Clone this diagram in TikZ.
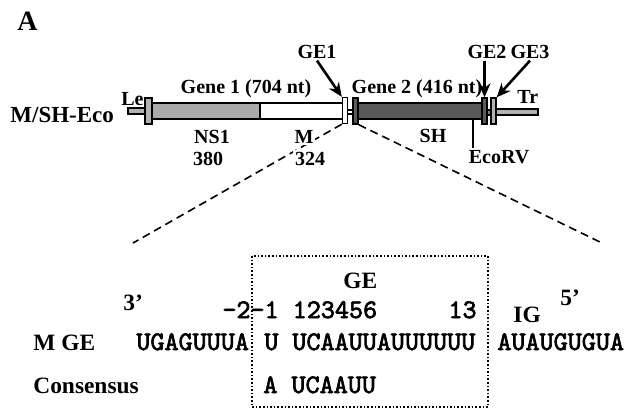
\documentclass[tikz,border=0pt]{standalone}
\usepackage{fontspec}
\setmainfont{Liberation Serif}
\setmonofont{lmmono10-regular}[Extension=.otf, AutoFakeBold=2.5]
\usetikzlibrary{arrows.meta}

\tikzset{
  lbl/.style={font=\bfseries\fontsize{10}{12}\selectfont, anchor=base, inner sep=1pt},
  big/.style={font=\bfseries\fontsize{11.7}{14}\selectfont, anchor=base west, inner sep=0pt},
  seq/.style={font=\ttfamily\bfseries\fontsize{13.4}{15}\selectfont, anchor=base west, inner sep=0pt},
  gebox/.style={draw, line width=0.7pt, minimum width=2.5pt, minimum height=13pt, inner sep=0pt},
  arr/.style={line width=1.3pt, -{Stealth[length=7pt,width=6pt]}},
  zoomline/.style={line width=0.8pt, dash pattern=on 4pt off 2.5pt},
}

\begin{document}
\begin{tikzpicture}[x=0.5pt, y=-0.5pt]
\useasboundingbox (0,0) rectangle (627,409);

% panel letter and construct name
\node[font=\bfseries\fontsize{14}{16}\selectfont, anchor=base west, inner sep=0pt] (panel) at (17,30) {A};
\node[font=\bfseries\fontsize{11.5}{14}\selectfont, anchor=base west, inner sep=0pt] (name) at (10,122) {M/SH-Eco};

% --- Genome bar ---
\draw[line width=0.7pt, fill=black!30] (128,108) rectangle (146,114);
\draw[line width=0.7pt, fill=black!33] (152,103) rectangle (260,119);
\draw[line width=0.7pt, fill=white] (260,103) rectangle (343,119);
\draw[line width=0.7pt, fill=white] (347,110) rectangle (353,114);
\draw[line width=0.7pt, fill=black!65] (358,103) rectangle (482,119);
\draw[line width=0.7pt, fill=black!50] (487,110) rectangle (491,115);
\draw[line width=0.7pt, fill=black!30] (496,109) rectangle (538,115);

% junction boxes
\node[gebox, fill=black!30, minimum width=3.5pt] (lebox) at (148.5,111) {};
\node[gebox, fill=white] (ge1box) at (345,110.5) {};
\node[gebox, fill=black!65] (shbox) at (355.5,111) {};
\node[gebox, fill=black!65] (ge2box) at (484.5,111) {};
\node[gebox, fill=black!30] (ge3box) at (493.5,111) {};
\coordinate (ecosite) at (473,119);

% zoom lines
\coordinate (zoomL) at (133,243);
\coordinate (zoomR) at (602,243);
\draw[zoomline] (ge1box.south west) -- (zoomL);
\draw[zoomline] (shbox.south east) -- (zoomR);

% --- Bar labels ---
\node[lbl] (gene1) at (246,93) {Gene 1 (704 nt)};
\node[lbl] (gene2) at (417,93) {Gene 2 (416 nt)};
\node[lbl] (ns1) at (212,143) {NS1};
\node[lbl] (ns1len) at (208,165) {380};
\node[lbl, fill=white] (m) at (304,143) {M};
\node[lbl, fill=white] (mlen) at (310,165) {324};
\node[lbl] (sh) at (433,142) {SH};
\node[lbl] (eco) at (499,163) {EcoRV};
\node[lbl] (ge1) at (317,58) {GE1};
\node[lbl] (ge2) at (487,58) {GE2};
\node[lbl] (ge3) at (530,58) {GE3};
\node[lbl, anchor=base west] (le) at (119,105) {Le};
\node[lbl, anchor=base west] (tr) at (515,103) {Tr};

\draw[arr] (ge1.south) -- (ge1box.north west);
\draw[arr] (ge2box.north |- ge2.south) -- (ge2box.north);
\draw[arr] (ge3.south) -- (ge3box.north east);
\draw[line width=0.8pt] (ecosite) -- (ecosite |- eco.north);

% --- Sequence ---
\draw[densely dotted, line width=0.8pt] (252,256) rectangle (488,407);
\node[big] (getitle) at (343,288) {GE};
\node[big] (end3) at (123,310) {3'};
\node[big] (end5) at (560,305) {5'};
\node[big] (ig) at (513,322) {IG};
\node[big] (mge) at (33,350) {M GE};
\node[big] (cons) at (33,393) {Consensus};

\node[seq] (pos) at (222,318) {-2-1 123456};
\node[seq, anchor=base east] (pos13) at (477,318) {13};
\node[seq] (upstream) at (136,350) {UGAGUUUA};
\node[seq] (mbase) at (264,350) {U};
\node[seq] (gemotif) at (292,350) {UCAAUUAUUUUUU};
\node[seq] (igseq) at (497,350) {AUAUGUGUA};
\node[seq] (consseq) at (263,393) {A UCAAUU};

\end{tikzpicture}
\end{document}
